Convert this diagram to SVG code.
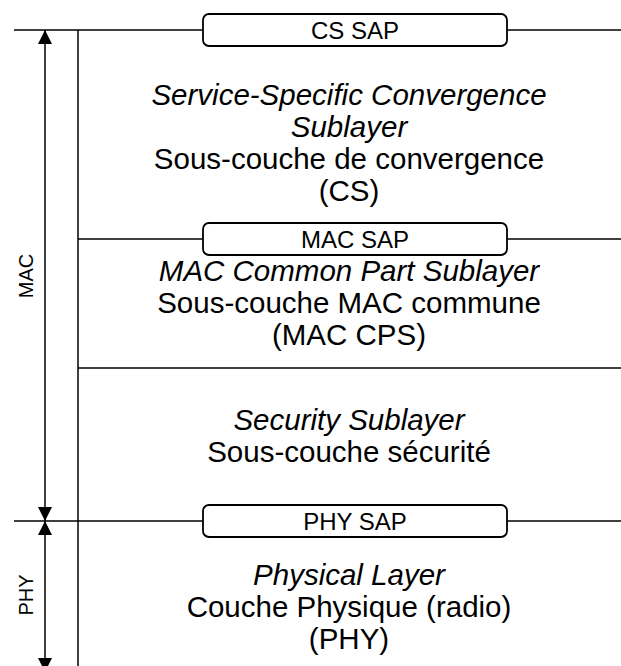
<svg xmlns="http://www.w3.org/2000/svg" width="621" height="666" viewBox="0 0 621 666">
<defs>
<style>
.ln{stroke:#000;stroke-width:1.5;fill:none}
.box{fill:#fff;stroke:#000;stroke-width:1.8}
.t{font-family:"Liberation Sans",Arial,sans-serif;font-size:29.5px;text-anchor:middle;fill:#000}
.i{font-style:italic}
.sap{font-family:"Liberation Sans",Arial,sans-serif;font-size:24px;text-anchor:middle;fill:#000}
.side{font-family:"Liberation Sans",Arial,sans-serif;font-size:20px;text-anchor:middle;fill:#000}
</style>
<marker id="ah" viewBox="0 0 14 14" refX="14" refY="7" markerWidth="14" markerHeight="14" markerUnits="userSpaceOnUse" orient="auto-start-reverse">
<path d="M0,0 L14,7 L0,14 Z" fill="#000"/>
</marker>
</defs>
<g id="connectors">
<line class="ln" x1="14" y1="30" x2="203" y2="30"/>
<line class="ln" x1="507" y1="30" x2="621" y2="30"/>
<line class="ln" x1="78" y1="30" x2="78" y2="666"/>
<line class="ln" x1="78" y1="239" x2="203" y2="239"/>
<line class="ln" x1="507" y1="239" x2="621" y2="239"/>
<line class="ln" x1="78" y1="368" x2="621" y2="368"/>
<line class="ln" x1="14" y1="521" x2="203" y2="521"/>
<line class="ln" x1="507" y1="521" x2="621" y2="521"/>
<line class="ln" x1="45" y1="30" x2="45" y2="521" marker-start="url(#ah)" marker-end="url(#ah)"/>
<line class="ln" x1="45" y1="521" x2="45" y2="672" marker-start="url(#ah)" marker-end="url(#ah)"/>
</g>
<g id="cs-sap">
<rect class="box" x="203" y="14" width="304" height="32" rx="6"/>
<text class="sap" x="355" y="39">CS SAP</text>
</g>
<g id="cs">
<text class="t i" x="349" y="105">Service-Specific Convergence</text>
<text class="t i" x="349" y="137">Sublayer</text>
<text class="t" x="349" y="169">Sous-couche de convergence</text>
<text class="t" x="349" y="201">(CS)</text>
</g>
<g id="mac-sap">
<rect class="box" x="203" y="223" width="304" height="32" rx="6"/>
<text class="sap" x="355" y="248">MAC SAP</text>
</g>
<g id="mac-cps">
<text class="t i" x="349" y="281">MAC Common Part Sublayer</text>
<text class="t" x="349" y="313">Sous-couche MAC commune</text>
<text class="t" x="349" y="345">(MAC CPS)</text>
</g>
<g id="security">
<text class="t i" x="349" y="430">Security Sublayer</text>
<text class="t" x="349" y="462">Sous-couche sécurité</text>
</g>
<g id="phy-sap">
<rect class="box" x="203" y="505" width="304" height="32" rx="6"/>
<text class="sap" x="355" y="530">PHY SAP</text>
</g>
<g id="phy">
<text class="t i" x="349" y="585">Physical Layer</text>
<text class="t" x="349" y="617">Couche Physique (radio)</text>
<text class="t" x="349" y="649">(PHY)</text>
</g>
<g id="mac-label">
<text class="side" transform="translate(33,276) rotate(-90)">MAC</text>
</g>
<g id="phy-label">
<text class="side" transform="translate(33,595) rotate(-90)">PHY</text>
</g>
</svg>
